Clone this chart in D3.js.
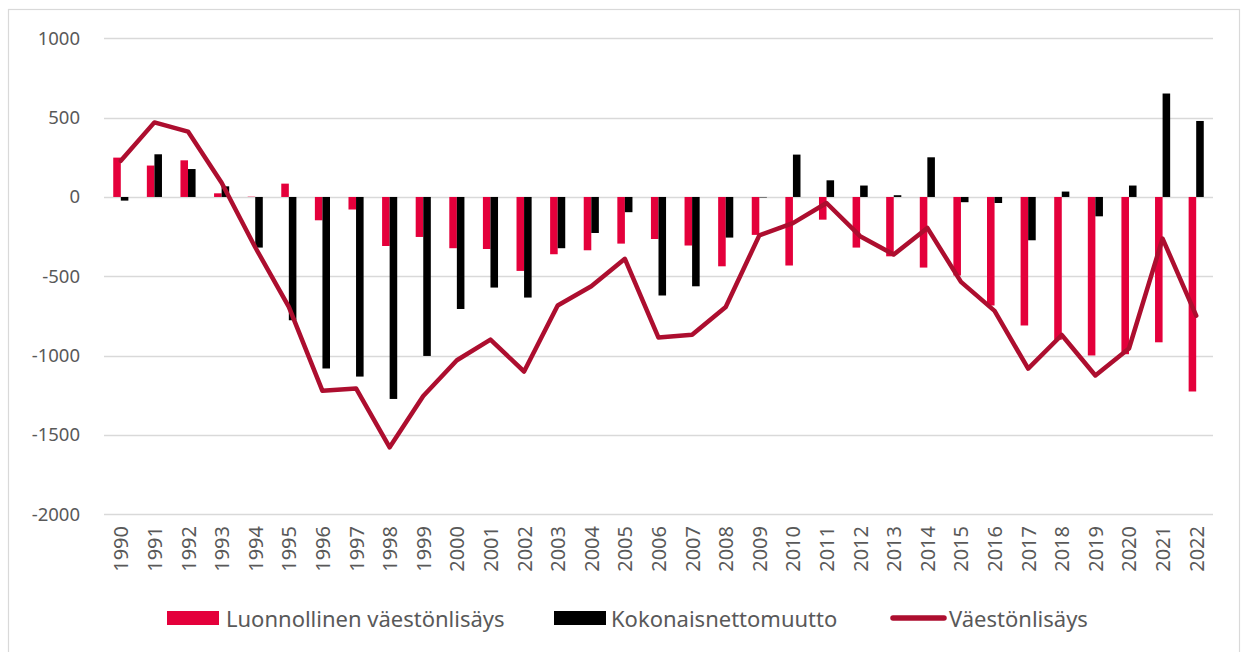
<html>
<head>
<meta charset="utf-8">
<script src="https://d3js.org/d3.v7.min.js"></script>
<style>
body { margin: 0; background: #fff; }
text { font-family: "Noto Sans", "Open Sans", sans-serif; fill: #595959; }
</style>
</head>
<body>
<svg width="1241" height="652"></svg>
<script>
// data
var years = d3.range(1990, 2023).map(String);
var natural = [248, 198, 231, 23, 2, 84, -147, -79, -309, -252, -323, -328, -466, -361, -336, -294,
               -265, -306, -437, -239, -432, -143, -319, -374, -445, -495, -684, -810, -900, -999, -991, -916, -1226];
var netMigration = [-23, 269, 176, 67, -319, -777, -1081, -1132, -1273, -1002, -706, -571, -634, -323, -227, -96,
                    -621, -563, -256, -3, 267, 105, 72, 11, 250, -33, -38, -273, 34, -122, 72, 652, 479];
var growth = [228, 470, 412, 90, -317, -693, -1222, -1207, -1578, -1254, -1029, -899, -1100, -684, -563, -390,
              -886, -869, -693, -242, -165, -38, -247, -363, -195, -535, -718, -1082, -870, -1125, -955, -262, -748];
var yTicks = [1000, 500, 0, -500, -1000, -1500, -2000];
var seriesNames = ["Luonnollinen väestönlisäys", "Kokonaisnettomuutto", "Väestönlisäys"];

var red = "#e4003b", dark = "#000000", lineCol = "#ad0e2f";

var svg = d3.select("svg");

// outer border (runs off the right and bottom edges)
svg.append("rect").attr("x", 8.5).attr("y", 9.5).attr("width", 1231).attr("height", 660)
  .attr("fill", "none").attr("stroke", "#d9d9d9").attr("stroke-width", 1.2);

var x = d3.scaleBand().domain(years).range([104, 1213]).padding(0);
var y = d3.scaleLinear().domain([-2000, 1000]).range([514.3, 38.3]);
var bw = x.bandwidth() * 0.225;

// gridlines
svg.append("g").selectAll("line").data(yTicks).enter().append("line")
  .attr("x1", 104).attr("x2", 1213)
  .attr("y1", function(d) { return Math.round(y(d)) + 0.5; })
  .attr("y2", function(d) { return Math.round(y(d)) + 0.5; })
  .attr("stroke", "#d9d9d9").attr("stroke-width", 1.3);

// y axis
var yAxis = svg.append("g").attr("transform", "translate(92,0)")
  .call(d3.axisLeft(y).tickValues(yTicks).tickSize(0).tickPadding(12)
    .tickFormat(function(d) { return String(d); }));
yAxis.select(".domain").remove();
yAxis.selectAll("text").style("font-size", "18.5px").style("font-family", "'Noto Sans', sans-serif").attr("fill", "#595959");

// bars
var cx = function(i) { return x(years[i]) + x.bandwidth() / 2; };
svg.append("g").selectAll("rect").data(natural).enter().append("rect")
  .attr("x", function(d, i) { return cx(i) - bw; })
  .attr("width", bw)
  .attr("y", function(d) { return y(Math.max(0, d)); })
  .attr("height", function(d) { return Math.abs(y(d) - y(0)); })
  .attr("fill", red);

svg.append("g").selectAll("rect").data(netMigration).enter().append("rect")
  .attr("x", function(d, i) { return cx(i); })
  .attr("width", bw)
  .attr("y", function(d) { return y(Math.max(0, d)); })
  .attr("height", function(d) { return Math.abs(y(d) - y(0)); })
  .attr("fill", dark);

// line
var line = d3.line().x(function(d, i) { return cx(i); }).y(function(d) { return y(d); });
svg.append("path").datum(growth).attr("d", line)
  .attr("fill", "none").attr("stroke", lineCol).attr("stroke-width", 4.5)
  .attr("stroke-linejoin", "round").attr("stroke-linecap", "round");

// x labels
svg.append("g").selectAll("text").data(years).enter().append("text")
  .attr("transform", function(d) { return "translate(" + (x(d) + x.bandwidth() / 2) + ",526) rotate(-90)"; })
  .attr("text-anchor", "end")
  .attr("dominant-baseline", "central")
  .style("font-size", "20px")
  .text(function(d) { return d; });

// legend
var lg = svg.append("g").attr("class", "legend");
var lx = [167, 554, 890];
var tx = [226, 611, 949];
lg.append("rect").attr("x", lx[0]).attr("y", 611).attr("width", 52).attr("height", 14).attr("fill", red);
lg.append("rect").attr("x", lx[1]).attr("y", 611).attr("width", 52).attr("height", 14).attr("fill", dark);
lg.append("line").attr("x1", lx[2] + 3).attr("x2", lx[2] + 54).attr("y1", 618).attr("y2", 618)
  .attr("stroke", lineCol).attr("stroke-width", 5.5).attr("stroke-linecap", "round");
lg.selectAll("text").data(seriesNames).enter().append("text")
  .attr("x", function(d, i) { return tx[i]; })
  .attr("y", 618)
  .attr("dominant-baseline", "central")
  .style("font-size", "22px")
  .text(function(d) { return d; });
</script>
</body>
</html>
